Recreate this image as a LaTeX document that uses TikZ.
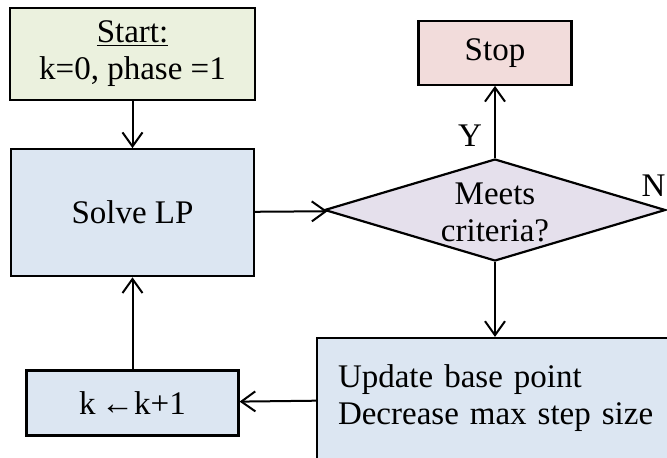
\documentclass[tikz,border=0pt]{standalone}
\usepackage{fontspec}
\setmainfont{Liberation Serif}
\usetikzlibrary{positioning,arrows.meta,shapes.geometric}
\definecolor{StartFill}{HTML}{EBF1DE}
\definecolor{StepFill}{HTML}{DCE6F2}
\definecolor{StopFill}{HTML}{F2DCDB}
\definecolor{TestFill}{HTML}{E5E0EC}
\newcommand{\Label}{\fontsize{33}{37}\selectfont}
\tikzset{
  block/.style={draw=black, line width=2.2pt, fill=StepFill, align=center,
                inner sep=0pt, font=\Label},
  startblock/.style={block, fill=StartFill},
  stopblock/.style={block, fill=StopFill},
  test/.style={diamond, draw=black, line width=2.2pt, fill=TestFill, inner sep=0pt},
  tag/.style={font=\Label, inner sep=0pt},
  flow/.style={-{Straight Barb[length=14pt,width=20pt]}, line width=2pt},
}

\begin{document}
\begin{tikzpicture}[x=1pt, y=-1pt]
  \useasboundingbox (0,0) rectangle (667,458);
  \node[startblock, minimum width=245pt, minimum height=92pt] (start) at (132.5,54)
    {\underline{Start:}\\k=0, phase =1};
  \node[block, minimum width=243pt, minimum height=127pt, below=47pt of start] (solve) {Solve LP};
  \node[block, minimum width=212pt, minimum height=65pt, below=92pt of solve] (kinc) {k\,←k+1};
  \node[test, minimum width=341pt, minimum height=102pt,
        label={[tag, align=center, yshift=-2pt]center:Meets\\criteria?}] (check) at (495,210) {};
  \node[stopblock, minimum width=153pt, minimum height=64pt, above=72pt of check] (stop) {Stop};
  \node[block, text width=321pt, align=left, inner xsep=21pt, minimum height=121pt] (update)
    at (498.5,398.5) {Update base point\\Decrease max step size};
  \node[tag, anchor=south east, xshift=-1pt, yshift=13pt] (no) at (check.east) {N};

  \draw[flow] (start) -- (solve);
  \draw[flow] (solve) -- (check);
  \draw[flow] (check) -- node[tag, pos=0.31, left=12pt] (yes) {Y} (stop);
  \draw[flow] (check.south) -- (check.south |- update.north);
  \draw[flow] (update) -- (kinc);
  \draw[flow] (kinc) -- (solve);
\end{tikzpicture}
\end{document}
